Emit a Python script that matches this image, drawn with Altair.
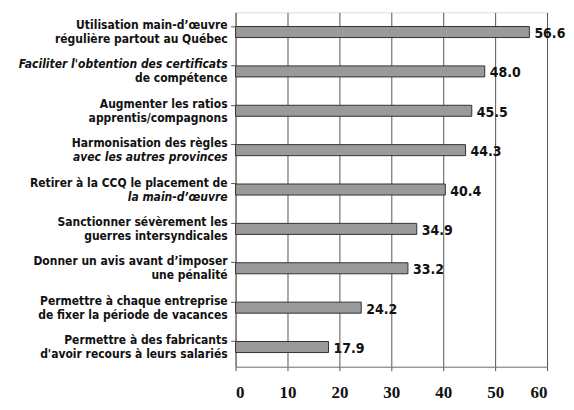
import altair as alt
import pandas as pd

line1 = [
    "Utilisation main-d\u2019œuvre",
    "Faciliter l'obtention des certificats",
    "Augmenter les ratios",
    "Harmonisation des règles",
    "Retirer à la CCQ le placement de",
    "Sanctionner sévèrement les",
    "Donner un avis avant d\u2019imposer",
    "Permettre à chaque entreprise",
    "Permettre à des fabricants",
]
line2 = [
    "régulière partout au Québec",
    "de compétence",
    "apprentis/compagnons",
    "avec les autres provinces",
    "la main-d\u2019œuvre",
    "guerres intersyndicales",
    "une pénalité",
    "de fixer la période de vacances",
    "d'avoir recours à leurs salariés",
]
italic1 = [False, True, False, False, False, False, False, False, False]
italic2 = [False, False, False, True, True, False, False, False, False]
values = [56.6, 48.0, 45.5, 44.3, 40.4, 34.9, 33.2, 24.2, 17.9]
value_labels = ["56.6", "48.0", "45.5", "44.3", "40.4", "34.9", "33.2", "24.2", "17.9"]
x_ticks = [0, 10, 20, 30, 40, 50, 60]

cats = [f"c{i}" for i in range(len(values))]
df = pd.DataFrame({"cat": cats, "value": values, "vlabel": value_labels})

rows = []
for i, c in enumerate(cats):
    rows.append({"cat": c, "line": 0, "text": line1[i], "italic": italic1[i]})
    rows.append({"cat": c, "line": 1, "text": line2[i], "italic": italic2[i]})
ldf = pd.DataFrame(rows)

FONT = "DejaVu Sans Condensed, Liberation Sans Narrow, Arial Narrow, sans-serif"

yenc = alt.Y("cat:N", sort=cats, title=None,
             scale=alt.Scale(paddingInner=0.72, paddingOuter=0.36),
             axis=alt.Axis(labels=False, bandPosition=0, tickSize=5, tickColor="#555",
                           domainColor="#777", grid=False))

bars = alt.Chart(df).mark_bar(color="#9a9a9a", stroke="#333", strokeWidth=1).encode(
    x=alt.X("value:Q", title=None,
            scale=alt.Scale(domain=[0, 60], nice=False),
            axis=alt.Axis(values=x_ticks, grid=True, gridColor="#555", gridWidth=1,
                          domainColor="#777", tickColor="#555", tickSize=4,
                          labelFont="Liberation Serif, Times New Roman, serif",
                          labelFontWeight="bold", labelFontSize=17, labelColor="#111",
                          labelPadding=14)),
    y=yenc,
)

vals = alt.Chart(df).mark_text(align="left", baseline="middle", dx=5, dy=2,
                               font=FONT, fontWeight="bold", fontSize=14,
                               color="#111").encode(
    x="value:Q", y=alt.Y("cat:N", sort=cats), text="vlabel:N")

layers = [bars, vals]
for ln, dy in [(0, -7), (1, 7)]:
    for it in [False, True]:
        sub = ldf[(ldf.line == ln) & (ldf.italic == it)]
        if len(sub) == 0:
            continue
        layers.append(alt.Chart(sub).mark_text(
            align="right", baseline="middle", dx=-8, dy=dy,
            font=FONT, fontWeight="bold", fontSize=12,
            fontStyle="italic" if it else "normal", color="#111").encode(
            x=alt.value(0), y=alt.Y("cat:N", sort=cats), text="text:N"))

chart = alt.layer(*layers).properties(
    width=312, height=355,
    padding={"left": 10, "top": 4, "right": 0, "bottom": 0},
).configure_view(stroke="#777", strokeWidth=1).configure(background="white")

chart.save("out.html", embed_options={"renderer": "svg", "actions": False})
